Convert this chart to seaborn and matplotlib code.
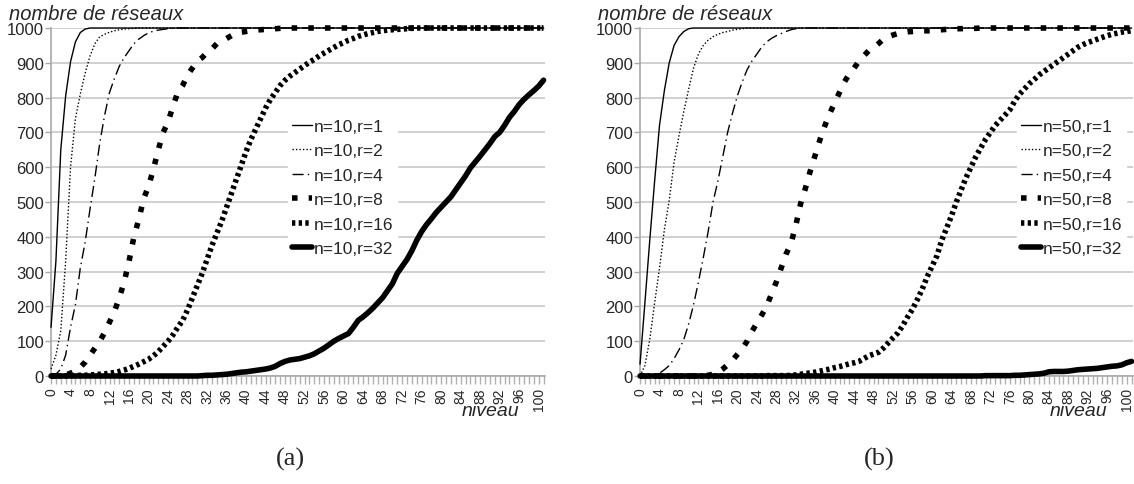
import numpy as np
import pandas as pd
import matplotlib
matplotlib.use('Agg')
import matplotlib.pyplot as plt
import seaborn as sns

# niveaux 0..101
niveaux = list(range(102))

# n = 10
n10_r1 = [140, 330, 650, 805, 903, 960, 987, 997] + [1000] * 94
n10_r2 = [20, 60, 130, 330, 600, 740, 810, 870, 920, 955, 975, 982, 988, 992, 995,
          997, 998, 999] + [1000] * 84
n10_r4 = [0, 5, 20, 60, 140, 205, 310, 385, 480, 570, 670, 750, 815, 855, 890, 915,
          935, 955, 968, 978, 986, 991, 994, 996, 998, 999] + [1000] * 76
n10_r8 = [0, 0, 0, 3, 8, 15, 25, 40, 60, 80, 100, 125, 155, 185, 225, 270, 330, 400,
          450, 510, 545, 595, 650, 700, 730, 775, 815, 835, 865, 885, 905, 915, 930,
          940, 955, 963, 970, 978, 985, 988, 990, 992, 994, 995, 996, 997, 998,
          999] + [1000] * 54
n10_r16 = [0, 0, 0, 0, 1, 1, 2, 2, 3, 4, 5, 6, 8, 10, 13, 17, 22, 28, 34, 41, 48, 58,
           70, 85, 100, 118, 140, 160, 190, 225, 260, 295, 335, 375, 410, 445, 485,
           525, 565, 605, 645, 680, 710, 740, 770, 795, 815, 835, 850, 862, 872, 882,
           892, 902, 910, 920, 928, 936, 944, 952, 958, 965, 970, 976, 980, 984, 987,
           990, 992, 994, 995, 996, 997, 998, 999] + [1000] * 27
n10_r32 = [0] * 31 + [1, 2, 2, 3, 4, 5, 7, 9, 11, 12, 14, 16, 18, 20, 23, 28, 36, 42,
                      46, 48, 50, 54, 58, 64, 72, 80, 90, 100, 108, 115, 122, 140, 160,
                      170, 182, 195, 210, 225, 245, 265, 295, 315, 335, 360, 390, 415,
                      435, 452, 470, 485, 500, 515, 535, 555, 575, 598, 615, 632, 650,
                      668, 688, 700, 720, 743, 760, 780, 795, 808, 820, 833, 850]

# n = 50
n50_r1 = [34, 210, 390, 560, 720, 820, 900, 950, 975, 990, 998] + [1000] * 91
n50_r2 = [0, 30, 105, 210, 310, 420, 505, 615, 690, 760, 825, 885, 925, 950, 965, 975,
          982, 987, 990, 994, 996, 998] + [1000] * 80
n50_r4 = [0, 0, 1, 3, 8, 18, 30, 50, 75, 105, 150, 205, 270, 340, 415, 500, 560, 630,
          700, 755, 805, 845, 880, 905, 925, 945, 960, 970, 978, 984, 990, 995, 998,
          999] + [1000] * 68
n50_r8 = [0] * 13 + [1, 2, 5, 10, 20, 32, 45, 62, 78, 100, 128, 152, 175, 200, 235, 270,
                     310, 350, 380, 432, 495, 540, 590, 635, 680, 720, 755, 785, 815,
                     845, 868, 885, 905, 920, 935, 943, 955, 968, 975, 980, 984, 987,
                     989, 990, 991, 992, 992, 992, 994, 995, 996, 997, 998, 998, 999,
                     999, 999] + [1000] * 32
n50_r16 = [0] * 26 + [1, 1, 1, 1, 1, 2, 3, 5, 7, 9, 11, 14, 17, 20, 24, 27, 31, 35, 38,
                      42, 50, 58, 63, 68, 80, 95, 110, 124, 145, 170, 192, 220, 250, 285,
                      315, 345, 390, 425, 460, 500, 535, 570, 600, 630, 655, 680, 700,
                      720, 735, 750, 765, 790, 810, 825, 840, 852, 865, 875, 885, 895,
                      905, 915, 925, 935, 945, 952, 958, 963, 968, 973, 978, 982, 985,
                      988, 990, 992]
n50_r32 = [0] * 71 + [1, 1, 1, 1, 1, 1, 2, 2, 3, 4, 5, 6, 8, 12, 13, 13, 13, 14, 16, 18,
                      19, 20, 21, 22, 24, 26, 28, 29, 32, 38, 42]

r_labels = ['1', '2', '4', '8', '16', '32']
# style of each r : (linewidth, linestyle)
styles = [
    (1.0, '-'),
    (1.0, (0, (1, 1.5))),
    (1.0, (0, (8, 3, 1, 3))),
    (4.0, (0, (1, 2))),
    (4.0, (0, (0.6, 0.6))),
    (4.0, '-'),
]

sns.set_theme(style='white')
plt.rcParams['font.family'] = ['Liberation Sans', 'DejaVu Sans']

fig = plt.figure(figsize=(11.34, 4.85), dpi=100)
ax1 = fig.add_axes([0.045, 0.2227, 0.4356, 0.7175])
ax2 = fig.add_axes([0.5644, 0.2227, 0.4347, 0.7175])

# (axe, n, séries, légende x, légende)
panels = [
    (ax1, '10', [n10_r1, n10_r2, n10_r4, n10_r8, n10_r16, n10_r32], 0.48, '(a)'),
    (ax2, '50', [n50_r1, n50_r2, n50_r4, n50_r8, n50_r16, n50_r32], 0.765, '(b)'),
]

for ax, n, series, leg_x, caption in panels:
    for r, vals, (lw, ls) in zip(r_labels, series, styles):
        sns.lineplot(x=niveaux, y=vals, ax=ax, color='black', lw=lw, linestyle=ls,
                     label='n=%s,r=%s' % (n, r), clip_on=False, zorder=3)

    ax.set_xlim(0, 101.3)
    ax.set_ylim(0, 1000)
    ax.set_yticks(range(0, 1001, 100))
    ax.set_xticks(range(0, 101, 4))
    ax.set_xticks(range(0, 102), minor=True)
    ax.tick_params(axis='x', which='both', length=6, color='#b0b0b0', width=1,
                   labelrotation=90, labelsize=10, pad=2, bottom=True)
    ax.tick_params(axis='y', length=4, color='#a8a8a8', width=1, labelsize=12,
                   pad=1, left=True)
    ax.grid(axis='y', color='#c8c8c8', lw=1.2)
    ax.grid(axis='x', visible=False)
    ax.set_axisbelow(True)
    for side in ['top', 'right']:
        ax.spines[side].set_visible(False)
    for side in ['left', 'bottom']:
        ax.spines[side].set_color('#a8a8a8')
        ax.spines[side].set_linewidth(1.2)
    ax.set_xlabel('')
    ax.set_ylabel('')

    leg = ax.legend(loc='upper left', bbox_to_anchor=(leg_x, 0.75), frameon=True,
                    fontsize=12.5, handlelength=1.2, handletextpad=0.1,
                    labelspacing=0.54, borderpad=0.2, borderaxespad=0)
    leg.get_frame().set_facecolor('white')
    leg.get_frame().set_edgecolor('white')
    leg.get_frame().set_alpha(1)

    pos = ax.get_position()
    fig.text(pos.x0 - 0.037, 0.958, 'nombre de réseaux', fontsize=14.5, style='italic',
             ha='left', va='baseline')
    fig.text(pos.x0 + pos.width * 0.889, 0.152, 'niveau', fontsize=14, style='italic',
             ha='center', va='center')
    fig.text(pos.x0 + pos.width * 0.485, 0.052, caption, fontsize=19,
             family='Liberation Serif', ha='center', va='center')

fig.savefig('out.png', dpi=100)
